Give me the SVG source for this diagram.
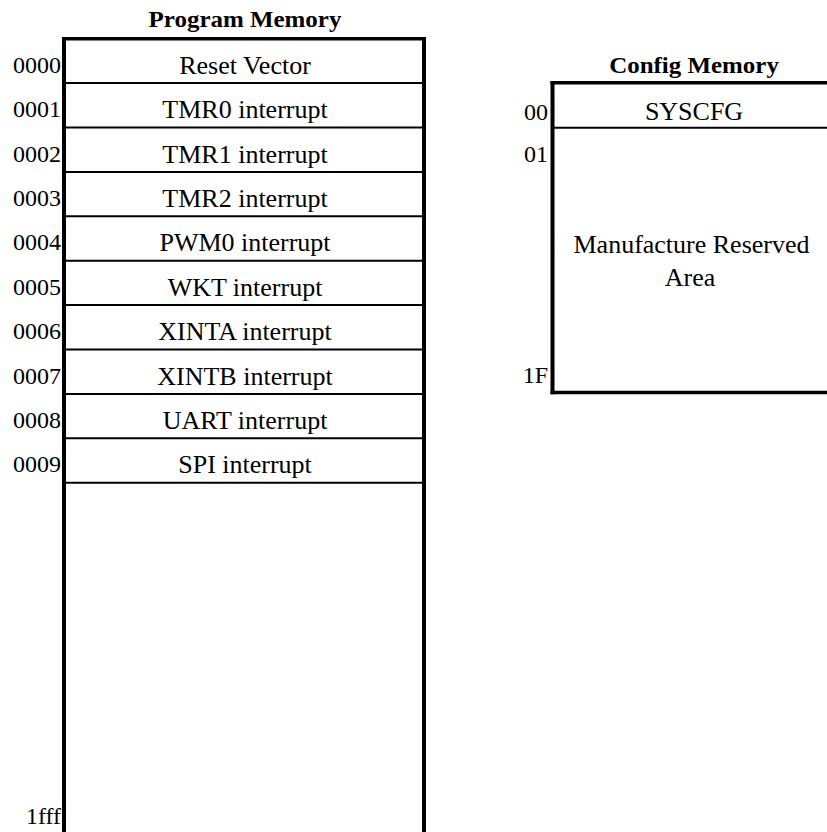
<svg xmlns="http://www.w3.org/2000/svg" width="827" height="832" viewBox="0 0 827 832">
<style>
text{font-family:"Liberation Serif","Times New Roman",serif;fill:#000}
.title{font-size:24px;font-weight:bold}
.cell{font-size:25px}
.addr{font-size:24px}
.thick{stroke:#000;stroke-width:4;fill:none}
.edge{stroke:#000;stroke-width:3.5;fill:none}
.sep{stroke:#000;stroke-width:2;fill:none}
</style>
<rect width="827" height="832" fill="#fff"/>
<g id="connectors"/>
<g id="program-memory">
  <text class="title" text-anchor="middle" transform="translate(245,27) scale(1.04,1)">Program Memory</text>
  <line class="edge" x1="62" y1="38.7" x2="426" y2="38.7"/>
  <line class="thick" x1="64" y1="36.9" x2="64" y2="832"/>
  <line class="thick" x1="424" y1="36.9" x2="424" y2="832"/>
  <g id="pm-0000">
    <text class="addr" text-anchor="end" transform="translate(61,72.7)">0000</text>
    <text class="cell" text-anchor="middle" transform="translate(245,73.7) scale(1.04,1)">Reset Vector</text>
    <line class="sep" x1="64" y1="83.1" x2="424" y2="83.1"/>
  </g>
  <g id="pm-0001">
    <text class="addr" text-anchor="end" transform="translate(61,117.1)">0001</text>
    <text class="cell" text-anchor="middle" transform="translate(245,118.1) scale(1.04,1)">TMR0 interrupt</text>
    <line class="sep" x1="64" y1="127.5" x2="424" y2="127.5"/>
  </g>
  <g id="pm-0002">
    <text class="addr" text-anchor="end" transform="translate(61,161.5)">0002</text>
    <text class="cell" text-anchor="middle" transform="translate(245,162.5) scale(1.04,1)">TMR1 interrupt</text>
    <line class="sep" x1="64" y1="171.9" x2="424" y2="171.9"/>
  </g>
  <g id="pm-0003">
    <text class="addr" text-anchor="end" transform="translate(61,205.9)">0003</text>
    <text class="cell" text-anchor="middle" transform="translate(245,206.9) scale(1.04,1)">TMR2 interrupt</text>
    <line class="sep" x1="64" y1="216.3" x2="424" y2="216.3"/>
  </g>
  <g id="pm-0004">
    <text class="addr" text-anchor="end" transform="translate(61,250.3)">0004</text>
    <text class="cell" text-anchor="middle" transform="translate(245,251.3) scale(1.04,1)">PWM0 interrupt</text>
    <line class="sep" x1="64" y1="260.7" x2="424" y2="260.7"/>
  </g>
  <g id="pm-0005">
    <text class="addr" text-anchor="end" transform="translate(61,294.7)">0005</text>
    <text class="cell" text-anchor="middle" transform="translate(245,295.7) scale(1.04,1)">WKT interrupt</text>
    <line class="sep" x1="64" y1="305.1" x2="424" y2="305.1"/>
  </g>
  <g id="pm-0006">
    <text class="addr" text-anchor="end" transform="translate(61,339.1)">0006</text>
    <text class="cell" text-anchor="middle" transform="translate(245,340.1) scale(1.04,1)">XINTA interrupt</text>
    <line class="sep" x1="64" y1="349.5" x2="424" y2="349.5"/>
  </g>
  <g id="pm-0007">
    <text class="addr" text-anchor="end" transform="translate(61,383.5)">0007</text>
    <text class="cell" text-anchor="middle" transform="translate(245,384.5) scale(1.04,1)">XINTB interrupt</text>
    <line class="sep" x1="64" y1="393.9" x2="424" y2="393.9"/>
  </g>
  <g id="pm-0008">
    <text class="addr" text-anchor="end" transform="translate(61,427.9)">0008</text>
    <text class="cell" text-anchor="middle" transform="translate(245,428.9) scale(1.04,1)">UART interrupt</text>
    <line class="sep" x1="64" y1="438.3" x2="424" y2="438.3"/>
  </g>
  <g id="pm-0009">
    <text class="addr" text-anchor="end" transform="translate(61,472.3)">0009</text>
    <text class="cell" text-anchor="middle" transform="translate(245,473.3) scale(1.04,1)">SPI interrupt</text>
    <line class="sep" x1="64" y1="482.7" x2="424" y2="482.7"/>
  </g>
  <g id="pm-1fff">
    <text class="addr" text-anchor="end" transform="translate(61,824)">1fff</text>
  </g>
</g>
<g id="config-memory">
  <text class="title" text-anchor="middle" transform="translate(694,73.3) scale(1.04,1)">Config Memory</text>
  <line class="edge" x1="550.5" y1="82.7" x2="827" y2="82.7"/>
  <line class="edge" x1="550.5" y1="392.5" x2="827" y2="392.5"/>
  <line class="thick" x1="552.5" y1="81" x2="552.5" y2="394.2"/>
  <g id="cm-00">
    <text class="addr" text-anchor="end" transform="translate(548,120)">00</text>
    <text class="cell" text-anchor="middle" transform="translate(694,120) scale(1.04,1)">SYSCFG</text>
    <line class="sep" x1="552.5" y1="127.7" x2="827" y2="127.7"/>
  </g>
  <g id="cm-01">
    <text class="addr" text-anchor="end" transform="translate(548,162)">01</text>
    <text class="cell" text-anchor="middle" transform="translate(691.5,253) scale(1.04,1)">Manufacture Reserved</text>
    <text class="cell" text-anchor="middle" transform="translate(690,286) scale(1.04,1)">Area</text>
    <text class="addr" text-anchor="end" transform="translate(548,383)">1F</text>
  </g>
</g>
</svg>
